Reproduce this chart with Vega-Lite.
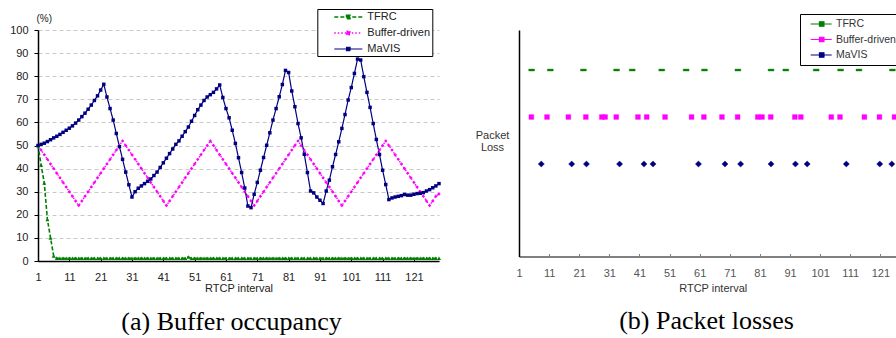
{
  "$schema": "https://vega.github.io/schema/vega-lite/v6.json",
  "usermeta": {"embedOptions": {"actions": false}},
  "padding": {"left": 9, "top": 8, "right": 0, "bottom": 0},
  "autosize": {"type": "pad"},
  "bounds": "flush",
  "spacing": 80,
  "config": {"view": {"stroke": null}, "font": "Liberation Sans"},
  "resolve": {"scale": {"color": "independent", "stroke": "independent", "strokeDash": "independent", "strokeWidth": "independent"}, "legend": {"color": "independent", "stroke": "independent", "strokeDash": "independent"}},
  "datasets": {
    "occ": [
      {"x":1,"TFRC":50,"Buffer-driven":50,"MaVIS":50},
      {"x":2,"TFRC":41.5,"Buffer-driven":48,"MaVIS":50.5},
      {"x":3,"TFRC":33.8,"Buffer-driven":46,"MaVIS":51},
      {"x":4,"TFRC":18,"Buffer-driven":44,"MaVIS":51.7},
      {"x":5,"TFRC":10,"Buffer-driven":42,"MaVIS":52.5},
      {"x":6,"TFRC":2.2,"Buffer-driven":40,"MaVIS":53.3},
      {"x":7,"TFRC":1.2,"Buffer-driven":38,"MaVIS":54},
      {"x":8,"TFRC":1.2,"Buffer-driven":36,"MaVIS":54.8},
      {"x":9,"TFRC":1.2,"Buffer-driven":34,"MaVIS":55.7},
      {"x":10,"TFRC":1.2,"Buffer-driven":32,"MaVIS":56.6},
      {"x":11,"TFRC":1.2,"Buffer-driven":30,"MaVIS":57.5},
      {"x":12,"TFRC":1.2,"Buffer-driven":28,"MaVIS":58.5},
      {"x":13,"TFRC":1.2,"Buffer-driven":26,"MaVIS":59.7},
      {"x":14,"TFRC":1.2,"Buffer-driven":24,"MaVIS":61},
      {"x":15,"TFRC":1.2,"Buffer-driven":26,"MaVIS":62.5},
      {"x":16,"TFRC":1.2,"Buffer-driven":28,"MaVIS":64},
      {"x":17,"TFRC":1.2,"Buffer-driven":30,"MaVIS":65.7},
      {"x":18,"TFRC":1.2,"Buffer-driven":32,"MaVIS":67.5},
      {"x":19,"TFRC":1.2,"Buffer-driven":34,"MaVIS":69.5},
      {"x":20,"TFRC":1.2,"Buffer-driven":36,"MaVIS":71.5},
      {"x":21,"TFRC":1.2,"Buffer-driven":38,"MaVIS":74},
      {"x":22,"TFRC":1.2,"Buffer-driven":40,"MaVIS":76.5},
      {"x":23,"TFRC":1.2,"Buffer-driven":42,"MaVIS":71},
      {"x":24,"TFRC":1.2,"Buffer-driven":44,"MaVIS":66},
      {"x":25,"TFRC":1.2,"Buffer-driven":46,"MaVIS":61},
      {"x":26,"TFRC":1.2,"Buffer-driven":48,"MaVIS":55.2},
      {"x":27,"TFRC":1.2,"Buffer-driven":50,"MaVIS":49.5},
      {"x":28,"TFRC":1.2,"Buffer-driven":52,"MaVIS":44},
      {"x":29,"TFRC":1.2,"Buffer-driven":50,"MaVIS":38.5},
      {"x":30,"TFRC":1.2,"Buffer-driven":48,"MaVIS":33},
      {"x":31,"TFRC":1.2,"Buffer-driven":46,"MaVIS":27.7},
      {"x":32,"TFRC":1.2,"Buffer-driven":44,"MaVIS":30},
      {"x":33,"TFRC":1.2,"Buffer-driven":42,"MaVIS":31.5},
      {"x":34,"TFRC":1.2,"Buffer-driven":40,"MaVIS":32.5},
      {"x":35,"TFRC":1.2,"Buffer-driven":38,"MaVIS":33.5},
      {"x":36,"TFRC":1.2,"Buffer-driven":36,"MaVIS":34.5},
      {"x":37,"TFRC":1.2,"Buffer-driven":34,"MaVIS":35.5},
      {"x":38,"TFRC":1.2,"Buffer-driven":32,"MaVIS":37},
      {"x":39,"TFRC":1.2,"Buffer-driven":30,"MaVIS":38.5},
      {"x":40,"TFRC":1.2,"Buffer-driven":28,"MaVIS":40.5},
      {"x":41,"TFRC":1.2,"Buffer-driven":26,"MaVIS":42.5},
      {"x":42,"TFRC":1.2,"Buffer-driven":24,"MaVIS":44.5},
      {"x":43,"TFRC":1.2,"Buffer-driven":26,"MaVIS":46.5},
      {"x":44,"TFRC":1.2,"Buffer-driven":28,"MaVIS":48.5},
      {"x":45,"TFRC":1.2,"Buffer-driven":30,"MaVIS":50.5},
      {"x":46,"TFRC":1.2,"Buffer-driven":32,"MaVIS":52},
      {"x":47,"TFRC":1.2,"Buffer-driven":34,"MaVIS":54},
      {"x":48,"TFRC":1.2,"Buffer-driven":36,"MaVIS":56},
      {"x":49,"TFRC":1.7,"Buffer-driven":38,"MaVIS":58},
      {"x":50,"TFRC":1.2,"Buffer-driven":40,"MaVIS":60.5},
      {"x":51,"TFRC":1.2,"Buffer-driven":42,"MaVIS":63},
      {"x":52,"TFRC":1.2,"Buffer-driven":44,"MaVIS":65.5},
      {"x":53,"TFRC":1.2,"Buffer-driven":46,"MaVIS":67.5},
      {"x":54,"TFRC":1.2,"Buffer-driven":48,"MaVIS":69.5},
      {"x":55,"TFRC":1.2,"Buffer-driven":50,"MaVIS":71},
      {"x":56,"TFRC":1.2,"Buffer-driven":52,"MaVIS":72},
      {"x":57,"TFRC":1.2,"Buffer-driven":50,"MaVIS":73},
      {"x":58,"TFRC":1.2,"Buffer-driven":48,"MaVIS":74.5},
      {"x":59,"TFRC":1.2,"Buffer-driven":46,"MaVIS":76.2},
      {"x":60,"TFRC":1.2,"Buffer-driven":44,"MaVIS":70.8},
      {"x":61,"TFRC":1.2,"Buffer-driven":42,"MaVIS":66},
      {"x":62,"TFRC":1.2,"Buffer-driven":40,"MaVIS":62},
      {"x":63,"TFRC":1.2,"Buffer-driven":38,"MaVIS":56.6},
      {"x":64,"TFRC":1.2,"Buffer-driven":36,"MaVIS":50.9},
      {"x":65,"TFRC":1.2,"Buffer-driven":34,"MaVIS":44.7},
      {"x":66,"TFRC":1.2,"Buffer-driven":32,"MaVIS":38.3},
      {"x":67,"TFRC":1.2,"Buffer-driven":30,"MaVIS":31.6},
      {"x":68,"TFRC":1.2,"Buffer-driven":28,"MaVIS":23.8},
      {"x":69,"TFRC":1.2,"Buffer-driven":26,"MaVIS":23.1},
      {"x":70,"TFRC":1.2,"Buffer-driven":24,"MaVIS":28.9},
      {"x":71,"TFRC":1.2,"Buffer-driven":26,"MaVIS":34},
      {"x":72,"TFRC":1.2,"Buffer-driven":28,"MaVIS":39.3},
      {"x":73,"TFRC":1.2,"Buffer-driven":30,"MaVIS":44.8},
      {"x":74,"TFRC":1.2,"Buffer-driven":32,"MaVIS":50.1},
      {"x":75,"TFRC":1.2,"Buffer-driven":34,"MaVIS":55.5},
      {"x":76,"TFRC":1.2,"Buffer-driven":36,"MaVIS":61},
      {"x":77,"TFRC":1.2,"Buffer-driven":38,"MaVIS":66},
      {"x":78,"TFRC":1.2,"Buffer-driven":40,"MaVIS":71.1},
      {"x":79,"TFRC":1.2,"Buffer-driven":42,"MaVIS":76.4},
      {"x":80,"TFRC":1.2,"Buffer-driven":44,"MaVIS":82.5},
      {"x":81,"TFRC":1.2,"Buffer-driven":46,"MaVIS":81.6},
      {"x":82,"TFRC":1.2,"Buffer-driven":48,"MaVIS":73.6},
      {"x":83,"TFRC":1.2,"Buffer-driven":50,"MaVIS":66.8},
      {"x":84,"TFRC":1.2,"Buffer-driven":52,"MaVIS":59.5},
      {"x":85,"TFRC":1.2,"Buffer-driven":50,"MaVIS":53.3},
      {"x":86,"TFRC":1.2,"Buffer-driven":48,"MaVIS":46.2},
      {"x":87,"TFRC":1.2,"Buffer-driven":46,"MaVIS":38.3},
      {"x":88,"TFRC":1.2,"Buffer-driven":44,"MaVIS":30.3},
      {"x":89,"TFRC":1.2,"Buffer-driven":42,"MaVIS":29.5},
      {"x":90,"TFRC":1.2,"Buffer-driven":40,"MaVIS":27.7},
      {"x":91,"TFRC":1.2,"Buffer-driven":38,"MaVIS":26.3},
      {"x":92,"TFRC":1.2,"Buffer-driven":36,"MaVIS":24.9},
      {"x":93,"TFRC":1.2,"Buffer-driven":34,"MaVIS":30.3},
      {"x":94,"TFRC":1.2,"Buffer-driven":32,"MaVIS":35},
      {"x":95,"TFRC":1.2,"Buffer-driven":30,"MaVIS":40.8},
      {"x":96,"TFRC":1.2,"Buffer-driven":28,"MaVIS":46.1},
      {"x":97,"TFRC":1.2,"Buffer-driven":26,"MaVIS":51.6},
      {"x":98,"TFRC":1.2,"Buffer-driven":24,"MaVIS":57.4},
      {"x":99,"TFRC":1.2,"Buffer-driven":26,"MaVIS":63.4},
      {"x":100,"TFRC":1.2,"Buffer-driven":28,"MaVIS":69.7},
      {"x":101,"TFRC":1.2,"Buffer-driven":30,"MaVIS":75.1},
      {"x":102,"TFRC":1.2,"Buffer-driven":32,"MaVIS":81.2},
      {"x":103,"TFRC":1.2,"Buffer-driven":34,"MaVIS":87.4},
      {"x":104,"TFRC":1.2,"Buffer-driven":36,"MaVIS":87},
      {"x":105,"TFRC":1.2,"Buffer-driven":38,"MaVIS":79.8},
      {"x":106,"TFRC":1.2,"Buffer-driven":40,"MaVIS":73},
      {"x":107,"TFRC":1.2,"Buffer-driven":42,"MaVIS":66.5},
      {"x":108,"TFRC":1.2,"Buffer-driven":44,"MaVIS":59.5},
      {"x":109,"TFRC":1.2,"Buffer-driven":46,"MaVIS":52.6},
      {"x":110,"TFRC":1.2,"Buffer-driven":48,"MaVIS":46.1},
      {"x":111,"TFRC":1.2,"Buffer-driven":50,"MaVIS":39.3},
      {"x":112,"TFRC":1.2,"Buffer-driven":52,"MaVIS":33.1},
      {"x":113,"TFRC":1.2,"Buffer-driven":50,"MaVIS":26.6},
      {"x":114,"TFRC":1.2,"Buffer-driven":48,"MaVIS":27.3},
      {"x":115,"TFRC":1.2,"Buffer-driven":46,"MaVIS":27.7},
      {"x":116,"TFRC":1.2,"Buffer-driven":44,"MaVIS":28},
      {"x":117,"TFRC":1.2,"Buffer-driven":42,"MaVIS":28.3},
      {"x":118,"TFRC":1.2,"Buffer-driven":40,"MaVIS":28.8},
      {"x":119,"TFRC":1.2,"Buffer-driven":38,"MaVIS":28.5},
      {"x":120,"TFRC":1.2,"Buffer-driven":36,"MaVIS":28.5},
      {"x":121,"TFRC":1.2,"Buffer-driven":34,"MaVIS":28.9},
      {"x":122,"TFRC":1.2,"Buffer-driven":32,"MaVIS":29.2},
      {"x":123,"TFRC":1.2,"Buffer-driven":30,"MaVIS":29.3},
      {"x":124,"TFRC":1.2,"Buffer-driven":28,"MaVIS":29.6},
      {"x":125,"TFRC":1.2,"Buffer-driven":26,"MaVIS":30.3},
      {"x":126,"TFRC":1.2,"Buffer-driven":24,"MaVIS":30.9},
      {"x":127,"TFRC":1.2,"Buffer-driven":26,"MaVIS":31.7},
      {"x":128,"TFRC":1.2,"Buffer-driven":28,"MaVIS":32.5},
      {"x":129,"TFRC":1.2,"Buffer-driven":29,"MaVIS":33.5}
    ],
    "loss": [
      {"series":"TFRC","x":5.2},{"series":"TFRC","x":11.4},{"series":"TFRC","x":22.4},{"series":"TFRC","x":33.4},{"series":"TFRC","x":38.6},
      {"series":"TFRC","x":48.4},{"series":"TFRC","x":56.5},{"series":"TFRC","x":62.6},{"series":"TFRC","x":73.7},{"series":"TFRC","x":84.7},
      {"series":"TFRC","x":89.6},{"series":"TFRC","x":99.7},{"series":"TFRC","x":107.8},{"series":"TFRC","x":113.9},{"series":"TFRC","x":125},
      {"series":"Buffer-driven","x":5.1},{"series":"Buffer-driven","x":10.3},{"series":"Buffer-driven","x":17.4},{"series":"Buffer-driven","x":23.2},
      {"series":"Buffer-driven","x":28.5},{"series":"Buffer-driven","x":29.6},{"series":"Buffer-driven","x":33.3},{"series":"Buffer-driven","x":40.5},
      {"series":"Buffer-driven","x":43.4},{"series":"Buffer-driven","x":49.5},{"series":"Buffer-driven","x":58.3},{"series":"Buffer-driven","x":62.4},
      {"series":"Buffer-driven","x":68.4},{"series":"Buffer-driven","x":73.6},{"series":"Buffer-driven","x":80.3},{"series":"Buffer-driven","x":81.7},
      {"series":"Buffer-driven","x":84.6},{"series":"Buffer-driven","x":92.6},{"series":"Buffer-driven","x":94.6},{"series":"Buffer-driven","x":104.7},
      {"series":"Buffer-driven","x":107.6},{"series":"Buffer-driven","x":115.7},{"series":"Buffer-driven","x":120.7},{"series":"Buffer-driven","x":125.7},
      {"series":"MaVIS","x":8.4},{"series":"MaVIS","x":18.5},{"series":"MaVIS","x":23.4},{"series":"MaVIS","x":34.4},{"series":"MaVIS","x":42.5},
      {"series":"MaVIS","x":45.5},{"series":"MaVIS","x":60.6},{"series":"MaVIS","x":69.4},{"series":"MaVIS","x":74.6},{"series":"MaVIS","x":84.7},
      {"series":"MaVIS","x":92.8},{"series":"MaVIS","x":96.7},{"series":"MaVIS","x":109.7},{"series":"MaVIS","x":120.8},{"series":"MaVIS","x":124.8}
    ]
  },
  "hconcat": [
    {
      "width": 401,
      "height": 231,
      "data": {"name": "occ"},
      "transform": [{"fold": ["TFRC", "Buffer-driven", "MaVIS"], "as": ["series", "v"]}],
      "title": {"text": "(a) Buffer occupancy", "orient": "bottom", "anchor": "middle", "frame": "group", "dx": -7, "offset": 36, "baseline": "alphabetic", "font": "Liberation Serif", "fontSize": 26, "fontWeight": "normal", "color": "#000"},
      "encoding": {
        "x": {"field": "x", "type": "quantitative", "scale": {"domain": [1, 129], "nice": false, "zero": false},
          "axis": {"values": [1, 11, 21, 31, 41, 51, 61, 71, 81, 91, 101, 111, 121], "title": "RTCP interval", "titleY": 27.6, "titleBaseline": "middle", "titleFontSize": 11, "titleFontWeight": "normal", "titleColor": "#222",
            "labelFontSize": 11, "labelColor": "#222", "labelFlush": false, "labelBaseline": "middle", "labelPadding": 19, "tickSize": -3, "tickColor": "#000", "domainColor": "#000", "domainWidth": 1.5, "grid": false}},
        "y": {"field": "v", "type": "quantitative", "scale": {"domain": [0, 100], "nice": false},
          "axis": {"values": [0, 10, 20, 30, 40, 50, 60, 70, 80, 90, 100], "title": "(%)", "titleAngle": 0, "titleAlign": "left", "titleBaseline": "alphabetic", "titleX": -2, "titleY": -9, "titleFontSize": 10, "titleFontWeight": "normal", "titleColor": "#222",
            "labelFontSize": 11, "labelColor": "#222", "labelFlush": false, "labelPadding": 6, "tickSize": 4, "tickColor": "#000", "domainColor": "#000", "domainWidth": 1.5,
            "grid": true, "gridColor": "#c8c8c8", "gridDash": [4, 3], "gridWidth": 1}},
        "color": {"field": "series", "type": "nominal",
          "scale": {"domain": ["TFRC", "Buffer-driven", "MaVIS"], "range": ["#008000", "#ff00ff", "#000080"]},
          "legend": {"orient": "none", "legendX": 279.3, "legendY": -21, "title": null, "padding": 2, "strokeColor": "#000", "fillColor": "#fff",
            "symbolType": "M1.8,0H7.4M4.25,-0.35H4.95V0.35H4.25Z", "symbolSize": 100, "symbolStrokeWidth": 1.2, "labelFont": "Liberation Sans", "labelFontSize": 11, "labelColor": "#222", "labelOffset": 36, "rowPadding": 5,
            "labelExpr": "datum.label + '    '"}}
      },
      "layer": [
        {"mark": {"type": "line"},
          "encoding": {
            "strokeDash": {"field": "series", "type": "nominal", "scale": {"domain": ["TFRC", "Buffer-driven", "MaVIS"], "range": [[4, 2], [1.5, 2], [1, 0]]},
              "legend": {"orient": "none", "legendX": 279.3, "legendY": -21, "title": null, "padding": 2, "strokeColor": "#000", "fillColor": "#fff",
                "symbolType": "M1.8,0H7.4M4.25,-0.35H4.95V0.35H4.25Z", "symbolSize": 100, "symbolStrokeWidth": 1.2, "labelFont": "Liberation Sans", "labelFontSize": 11, "labelColor": "#222", "labelOffset": 36, "rowPadding": 5,
                "labelExpr": "datum.label + '    '"}},
            "strokeWidth": {"field": "series", "type": "nominal", "scale": {"domain": ["TFRC", "Buffer-driven", "MaVIS"], "range": [1.6, 1.2, 1.4]}, "legend": null}
          }},
        {"transform": [{"filter": "datum.series === 'TFRC'"}],
          "mark": {"type": "point", "filled": true, "opacity": 1, "shape": "triangle-up", "size": 16}},
        {"transform": [{"filter": "datum.series === 'Buffer-driven'"}],
          "mark": {"type": "point", "filled": true, "opacity": 1, "shape": "diamond", "size": 12}},
        {"transform": [{"filter": "datum.series === 'MaVIS'"}],
          "mark": {"type": "point", "filled": true, "opacity": 1, "shape": "square", "size": 12}}
      ]
    },
    {
      "width": 377,
      "height": 226.5,
      "data": {"name": "loss"},
      "title": {"text": "(b) Packet losses", "orient": "bottom", "anchor": "middle", "frame": "group", "dx": -1, "offset": 36, "baseline": "alphabetic", "font": "Liberation Serif", "fontSize": 26, "fontWeight": "normal", "color": "#000"},
      "encoding": {
        "x": {"field": "x", "type": "quantitative", "scale": {"domain": [1, 126.2], "nice": false, "zero": false},
          "axis": {"values": [1, 11, 21, 31, 41, 51, 61, 71, 81, 91, 101, 111, 121], "title": "RTCP interval", "titleX": 193.7, "titleY": 31.8, "titleBaseline": "middle", "titleFontSize": 11, "titleFontWeight": "normal", "titleColor": "#333",
            "labelFontSize": 11, "labelColor": "#555", "labelFlush": false, "labelBaseline": "middle", "labelPadding": 19.5, "tickSize": -3, "tickColor": "#808080", "domainColor": "#808080", "domainWidth": 2, "grid": false}},
        "y": {"field": "series", "type": "nominal", "scale": {"type": "point", "domain": ["TFRC", "Buffer-driven", "MaVIS", "none"], "padding": 0.91, "align": 0.468},
          "axis": {"title": ["Packet", "Loss"], "titleAngle": 0, "titleAlign": "center", "titleBaseline": "alphabetic", "titleX": -27, "titleY": 108, "titleLineHeight": 12.4, "titleFontSize": 11, "titleFontWeight": "normal", "titleColor": "#333",
            "labels": false, "ticks": false, "grid": false, "domainColor": "#000", "domainWidth": 1.5}},
        "color": {"field": "series", "type": "nominal",
          "scale": {"domain": ["TFRC", "Buffer-driven", "MaVIS"], "range": ["#008000", "#ff00ff", "#000080"]},
          "legend": {"orient": "none", "legendX": 281, "legendY": -16, "title": null, "padding": 4, "strokeColor": "#000", "fillColor": "#fff",
            "symbolType": "M0.14,0H4.34M1.89,-0.45H2.79V0.45H1.89Z", "symbolSize": 100, "symbolStrokeWidth": 1.2, "labelFont": "Liberation Sans", "labelFontSize": 10.5, "labelColor": "#333", "labelOffset": 20, "rowPadding": 3.5}},
        "stroke": {"field": "series", "type": "nominal",
          "scale": {"domain": ["TFRC", "Buffer-driven", "MaVIS"], "range": ["#008000", "#ff00ff", "#000080"]},
          "legend": {"orient": "none", "legendX": 281, "legendY": -16, "title": null, "padding": 4, "strokeColor": "#000", "fillColor": "#fff",
            "symbolType": "M0.14,0H4.34M1.89,-0.45H2.79V0.45H1.89Z", "symbolSize": 100, "symbolStrokeWidth": 1.2, "labelFont": "Liberation Sans", "labelFontSize": 10.5, "labelColor": "#333", "labelOffset": 20, "rowPadding": 3.5}}
      },
      "layer": [
        {"transform": [{"filter": "datum.series === 'TFRC'"}],
          "mark": {"type": "point", "filled": true, "opacity": 1, "strokeWidth": 0.4, "shape": "M-1,-0.33H1V0.33H-1Z", "size": 34}},
        {"transform": [{"filter": "datum.series === 'Buffer-driven'"}],
          "mark": {"type": "point", "filled": true, "opacity": 1, "strokeWidth": 0.4, "shape": "square", "size": 23}},
        {"transform": [{"filter": "datum.series === 'MaVIS'"}],
          "mark": {"type": "point", "filled": true, "opacity": 1, "strokeWidth": 0.4, "shape": "diamond", "size": 38}}
      ]
    }
  ]
}
